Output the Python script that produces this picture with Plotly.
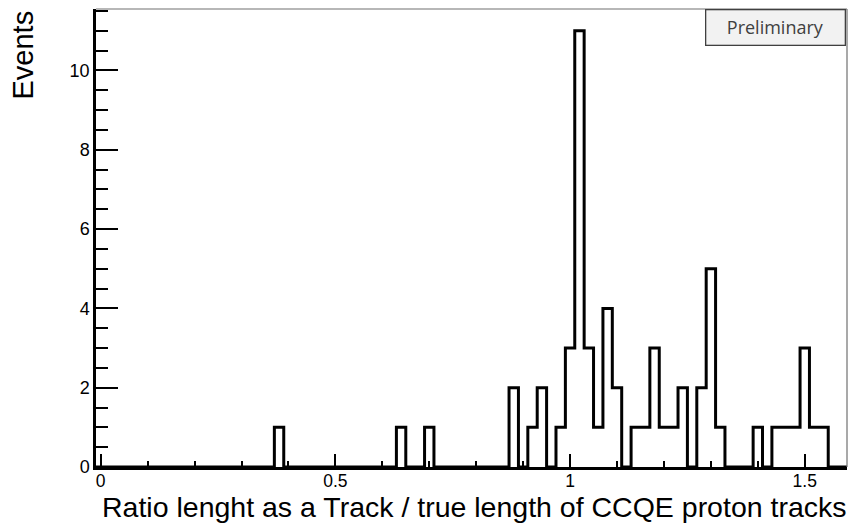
import numpy as np
import plotly.graph_objects as go

# Histogram binning: 80 bins of width 0.02 spanning the ratio axis
x_min, x_max = -0.01, 1.59
bin_width = 0.02

# Non-empty bins (bin centre -> event count)
bin_centers = [0.38, 0.64, 0.70, 0.88, 0.92, 0.94, 0.98, 1.00, 1.02, 1.04,
               1.06, 1.08, 1.10, 1.14, 1.16, 1.18, 1.20, 1.22, 1.24, 1.28,
               1.30, 1.32, 1.40, 1.44, 1.46, 1.48, 1.50, 1.52, 1.54]
counts = [1, 1, 1, 2, 1, 2, 1, 3, 11, 3,
          1, 4, 2, 1, 1, 3, 1, 1, 2, 2,
          5, 1, 1, 1, 1, 1, 3, 1, 1]

y_max = 11.55

x_title = "Ratio lenght as a Track / true length of CCQE proton tracks"
y_title = "Events"
badge_text = "Preliminary"

# Fill the full set of bins and build the step outline
n_bins = int(round((x_max - x_min) / bin_width))
edges = x_min + bin_width * np.arange(n_bins + 1)
contents = np.zeros(n_bins)
for c, n in zip(bin_centers, counts):
    contents[int(round((c - x_min) / bin_width - 0.5))] = n
step_y = np.append(contents, contents[-1])

font_family = "Liberation Sans, Arial, Helvetica, sans-serif"

fig = go.Figure()
fig.add_trace(go.Scatter(
    x=edges, y=step_y, mode="lines", line_shape="hv",
    line=dict(color="black", width=3), hoverinfo="skip", showlegend=False,
))

fig.update_layout(
    width=850, height=523,
    margin=dict(l=96, r=3, t=9, b=56),
    paper_bgcolor="white", plot_bgcolor="white",
    font=dict(family=font_family, color="black"),
    xaxis=dict(
        range=[x_min, x_max], showgrid=False, zeroline=False,
        showline=True, linecolor="black", linewidth=2.5,
        ticks="inside", ticklen=13, tickwidth=1.5, tickcolor="black",
        tick0=0, dtick=0.5, tickformat="~g", ticklabelstandoff=-4,
        tickfont=dict(size=17.5, family=font_family),
        minor=dict(ticks="inside", dtick=0.1, ticklen=6, tickwidth=1.5, tickcolor="black"),
    ),
    yaxis=dict(
        range=[0, y_max], showgrid=False, zeroline=False,
        showline=True, linecolor="black", linewidth=2.5,
        ticks="inside", ticklen=22, tickwidth=1.5, tickcolor="black",
        tick0=0, dtick=2,
        tickfont=dict(size=18, family=font_family),
        minor=dict(ticks="inside", dtick=0.5, ticklen=12, tickwidth=1.5, tickcolor="black"),
    ),
    shapes=[
        dict(type="line", xref="paper", yref="paper", x0=0, x1=1, y0=1, y1=1,
             line=dict(color="#707070", width=1.2)),
        dict(type="line", xref="paper", yref="paper", x0=1, x1=1, y0=0, y1=1,
             line=dict(color="#707070", width=1.2)),
    ],
    annotations=[
        dict(text=y_title, textangle=-90, xref="paper", yref="paper",
             x=-0.0985, y=1.0, xanchor="center", yanchor="top", showarrow=False,
             font=dict(size=29, family=font_family, color="black")),
        dict(text=x_title, xref="paper", yref="paper",
             x=1.0013, y=-0.0502, xanchor="right", yanchor="top", showarrow=False,
             borderpad=0,
             font=dict(size=28.5, family=font_family, color="black")),
        dict(text=badge_text, xref="paper", yref="paper",
             x=0.9987, y=1.0, xanchor="right", yanchor="top", showarrow=False,
             width=136, height=32, bgcolor="#f2f2f2", bordercolor="#404040",
             borderwidth=1.3, borderpad=1,
             font=dict(size=18, family="Open Sans, Noto Sans, sans-serif", color="#404040")),
    ],
)

fig.write_html("out.html")
